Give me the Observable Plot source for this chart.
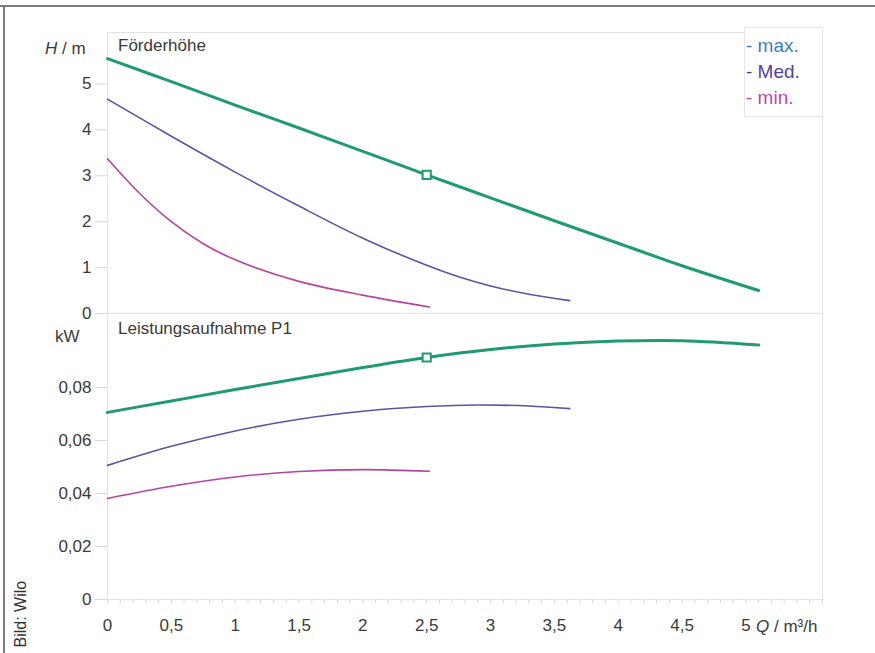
<!DOCTYPE html>
<html><head><meta charset="utf-8">
<script src="https://cdn.jsdelivr.net/npm/d3@7"></script>
<script src="https://cdn.jsdelivr.net/npm/@observablehq/plot@0.6"></script>
<style>
body{margin:0;background:#fff;}
#c{position:relative;width:875px;height:653px;overflow:hidden;background:#fff;font-family:"Liberation Sans",Arial,sans-serif;color:#3a3a3a;}
.abs{position:absolute;white-space:nowrap;line-height:1;}
#c svg{position:absolute;left:0;overflow:visible;background:transparent;}
</style></head><body><div id="c"></div>
<script>
// ---- data ----
const series = ["max.", "Med.", "min."];
const colors = ["#1f9a72", "#5a54a6", "#b5449f"];
const legendColors = ["#3f7fc0", "#4c43a0", "#c043ae"];
const widths = [3, 1.6, 1.6];

const qMaxH = [0, 0.5, 1, 1.5, 2, 2.5, 3, 3.5, 4, 4.5, 5.1];
const hMax  = [5.55, 5.05, 4.54, 4.04, 3.53, 3.02, 2.52, 2.02, 1.53, 1.04, 0.5];
const qMedH = [0, 0.5, 1, 1.5, 2, 2.5, 2.75, 3, 3.3, 3.62];
const hMed  = [4.67, 3.86, 3.08, 2.34, 1.64, 1.05, 0.8, 0.6, 0.42, 0.28];
const qMinH = [0, 0.25, 0.5, 0.75, 1, 1.5, 2, 2.52];
const hMin  = [3.37, 2.62, 2.0, 1.52, 1.17, 0.7, 0.4, 0.14];

const qMaxP = [0, 0.5, 1, 1.5, 2, 2.5, 3, 3.5, 4, 4.5, 5.1];
const pMax  = [0.0706, 0.0749, 0.0792, 0.0834, 0.0875, 0.0913, 0.0943, 0.0964, 0.0975, 0.0976, 0.0960];
const qMedP = [0, 0.5, 1, 1.5, 2, 2.5, 2.9, 3.3, 3.62];
const pMed  = [0.0506, 0.0578, 0.0636, 0.0680, 0.0710, 0.0728, 0.0734, 0.0730, 0.0720];
const qMinP = [0, 0.5, 1, 1.5, 2, 2.52];
const pMin  = [0.0381, 0.0427, 0.0462, 0.0483, 0.0490, 0.0484];

const markerQ = 2.5, markerH = 3.02, markerP = 0.0913;

const xTicks = [0, 0.5, 1, 1.5, 2, 2.5, 3, 3.5, 4, 4.5, 5];
const xMinor = d3.range(0, 5.61, 0.1);
const hTicks = [0, 1, 2, 3, 4, 5];
const pTicks = [0, 0.02, 0.04, 0.06, 0.08];

// ---- helpers ----
const comma = d => String(d).replace(".", ",");
const pFmt = d => d === 0 ? "0" : d.toFixed(2).replace(".", ",");
const rows = (qs, vs, s) => qs.map((q, i) => ({q, v: vs[i], s}));
const headRows = [...rows(qMaxH, hMax, "max."), ...rows(qMedH, hMed, "Med."), ...rows(qMinH, hMin, "min.")];
const powRows = [...rows(qMaxP, pMax, "max."), ...rows(qMedP, pMed, "Med."), ...rows(qMinP, pMin, "min.")];

const common = {
  width: 875,
  marginLeft: 107, marginRight: 53,
  x: {domain: [0, 5.6]},
  style: {fontFamily: '"Liberation Sans", Arial, sans-serif', fontSize: "17px", color: "#3a3a3a", background: "transparent", overflow: "visible"}
};

function lines(data) {
  return series.map((s, i) => Plot.line(data.filter(d => d.s === s), {
    x: "q", y: "v", stroke: colors[i], strokeWidth: widths[i], curve: "catmull-rom"
  }));
}

const headPlot = Plot.plot({
  ...common,
  height: 314, marginTop: 32, marginBottom: 1,
  y: {domain: [0, 6.12]},
  marks: [
    Plot.frame({stroke: "#e2e2e2"}),
    Plot.axisX({ticks: [], tickSize: 0, label: null}),
    Plot.axisY({ticks: hTicks, tickFormat: comma, tickSize: 12, tickPadding: 4, stroke: "#d6d6d6", fill: "#3a3a3a", label: null}),
    ...lines(headRows),
    Plot.dot([{q: markerQ, v: markerH}], {x: "q", y: "v", symbol: "square", r: 4.6, stroke: colors[0], strokeWidth: 2, fill: "white"})
  ]
});
headPlot.style.top = "0px";

const powPlot = Plot.plot({
  ...common,
  height: 340, marginTop: 0, marginBottom: 54,
  y: {domain: [0, 0.1079]},
  marks: [
    Plot.frame({stroke: "#e2e2e2"}),
    Plot.axisX({ticks: xMinor, tickSize: 4, tickFormat: () => "", stroke: "#d6d6d6", label: null}),
    Plot.axisX({ticks: xTicks, tickFormat: comma, tickSize: 0, tickPadding: 19, fill: "#3a3a3a", label: null}),
    Plot.axisY({ticks: pTicks, tickFormat: pFmt, tickSize: 12, tickPadding: 4, stroke: "#d6d6d6", fill: "#3a3a3a", label: null}),
    ...lines(powRows),
    Plot.dot([{q: markerQ, v: markerP}], {x: "q", y: "v", symbol: "square", r: 4.6, stroke: colors[0], strokeWidth: 2, fill: "white"})
  ]
});
powPlot.style.top = "313px";

const box = document.getElementById("c");
box.append(headPlot, powPlot);

function addText(html, css) {
  const d = document.createElement("div");
  d.className = "abs";
  d.innerHTML = html;
  Object.assign(d.style, css);
  box.append(d);
  return d;
}
// frame of the picture
addText("", {left: "0px", top: "5px", width: "875px", height: "2px", background: "#7a7a7a"});
addText("", {left: "3px", top: "5px", width: "2px", height: "660px", background: "#7a7a7a"});

addText("<i>H</i> / m", {left: "45px", top: "40px", fontSize: "17px"});
addText("Förderhöhe", {left: "118px", top: "37px", fontSize: "17px"});
addText("kW", {left: "55px", top: "328px", fontSize: "17px"});
addText("Leistungsaufnahme P1", {left: "118px", top: "320px", fontSize: "17px"});
addText("<i>Q</i> / m³/h", {left: "756px", top: "618px", fontSize: "17px"});
addText("Bild: Wilo", {left: "-13px", top: "606px", width: "67px", height: "16px", fontSize: "16px", color: "#333", transform: "rotate(-90deg)", transformOrigin: "center"});

// legend
const lg = addText("", {left: "744px", top: "27px", width: "77px", height: "88px", border: "1px solid #e6e6e6", background: "#fff"});
series.forEach((s, i) => {
  const t = document.createElement("div");
  t.textContent = "- " + s;
  Object.assign(t.style, {position: "absolute", left: "1px", top: (8 + i * 26) + "px", fontSize: "19px", color: legendColors[i]});
  lg.append(t);
});
</script>
</body></html>
